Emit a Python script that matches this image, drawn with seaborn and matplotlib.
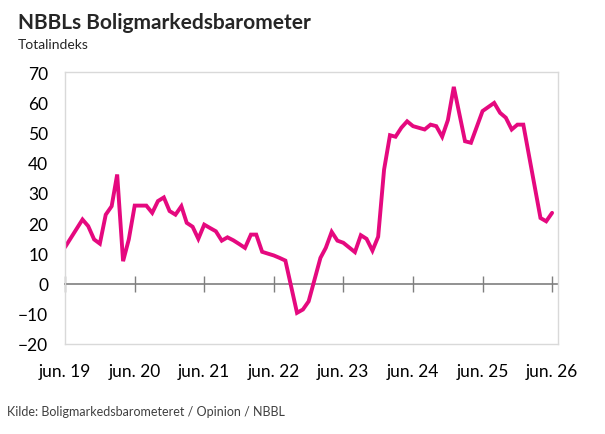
import numpy as np
import pandas as pd
import matplotlib
matplotlib.use("Agg")
import matplotlib.pyplot as plt
import matplotlib.dates as mdates
import seaborn as sns

# month of each survey and the total index
months = ["2019-06", "2019-09", "2019-10", "2019-11", "2019-12",
          "2020-01", "2020-02", "2020-03", "2020-04", "2020-05", "2020-06",
          "2020-08", "2020-09", "2020-10", "2020-11", "2020-12",
          "2021-01", "2021-02", "2021-03", "2021-04", "2021-05", "2021-06",
          "2021-07", "2021-08", "2021-09", "2021-10", "2021-11", "2021-12",
          "2022-01", "2022-02", "2022-03", "2022-04", "2022-05", "2022-06",
          "2022-07", "2022-08", "2022-10", "2022-11", "2022-12",
          "2023-02", "2023-03", "2023-04", "2023-05", "2023-06",
          "2023-08", "2023-09", "2023-10", "2023-11", "2023-12",
          "2024-01", "2024-02", "2024-03", "2024-04", "2024-05", "2024-06",
          "2024-08", "2024-09", "2024-10", "2024-11", "2024-12",
          "2025-01", "2025-03", "2025-04", "2025-06",
          "2025-08", "2025-09", "2025-10", "2025-11", "2025-12",
          "2026-01", "2026-04", "2026-05", "2026-06"]
values = [12.0, 21.2, 19.0, 14.6, 13.2,
          22.8, 25.6, 36.1, 7.4, 14.6, 25.8,
          25.8, 23.4, 27.3, 28.5, 24.0,
          22.8, 25.6, 20.1, 18.8, 14.8, 19.5,
          18.4, 17.3, 14.2, 15.3, 14.3, 13.1,
          11.8, 16.2, 16.2, 10.5, 9.9, 9.3,
          8.5, 7.6, -9.7, -8.6, -5.9,
          8.5, 11.8, 17.1, 14.2, 13.5,
          10.4, 16.0, 14.8, 10.9, 15.5,
          37.7, 49.1, 48.6, 51.6, 53.7, 52.1,
          51.0, 52.6, 52.1, 48.6, 54.1,
          65.1, 47.1, 46.6, 57.1,
          59.8, 56.5, 54.9, 51.0, 52.6,
          52.6, 21.7, 20.6, 23.4]

tick_years = [2019, 2020, 2021, 2022, 2023, 2024, 2025, 2026]
tick_labels = [f"jun. {y % 100}" for y in tick_years]
y_ticks = list(range(-20, 71, 10))

df = pd.DataFrame({"dato": pd.to_datetime(months), "indeks": values})

sns.set_theme(style="white")
plt.rcParams["font.family"] = ["Lato", "DejaVu Sans"]

fig = plt.figure(figsize=(6.05, 4.35), dpi=100)
ax = fig.add_axes([0.1074, 0.207, 0.8146, 0.625])

sns.lineplot(data=df, x="dato", y="indeks", ax=ax, color="#E5097F",
             linewidth=2.8, solid_joinstyle="miter")

ax.set_ylim(-20, 70)
ax.set_yticks(y_ticks)
ax.set_xlim(pd.Timestamp("2019-06-01"), pd.Timestamp("2026-07-01"))
tick_dates = [pd.Timestamp(f"{y}-06-01") for y in tick_years]
ax.set_xticks(tick_dates)
ax.set_xticklabels(tick_labels)
ax.set_xlabel("")
ax.set_ylabel("")

for s in ax.spines.values():
    s.set_color("#d9d9d9")
    s.set_linewidth(1.0)

ax.tick_params(axis="x", length=0, pad=14, labelsize=12.5, colors="black")
ax.tick_params(axis="y", length=0, pad=12, labelsize=12.5, colors="black")

# x axis line crossing at zero, with tick marks through it
zero_axis = ax.secondary_xaxis(0, transform=ax.transData)
zero_axis.set_xticks(tick_dates)
zero_axis.tick_params(axis="x", direction="inout", length=11, width=1.0,
                      color="#7f7f7f", labelbottom=False)
zero_axis.spines["bottom"].set_color("#7f7f7f")
zero_axis.spines["bottom"].set_linewidth(1.2)

fig.text(0.029, 0.948, "NBBLs Boligmarkedsbarometer", fontsize=15,
         fontweight="bold", va="center", ha="left")
fig.text(0.03, 0.896, "Totalindeks", fontsize=10, va="center", ha="left")
fig.text(0.012, 0.052, "Kilde: Boligmarkedsbarometeret / Opinion / NBBL",
         fontsize=9, color="#404040", va="center", ha="left")

fig.savefig("out.png", dpi=100, facecolor="white")
